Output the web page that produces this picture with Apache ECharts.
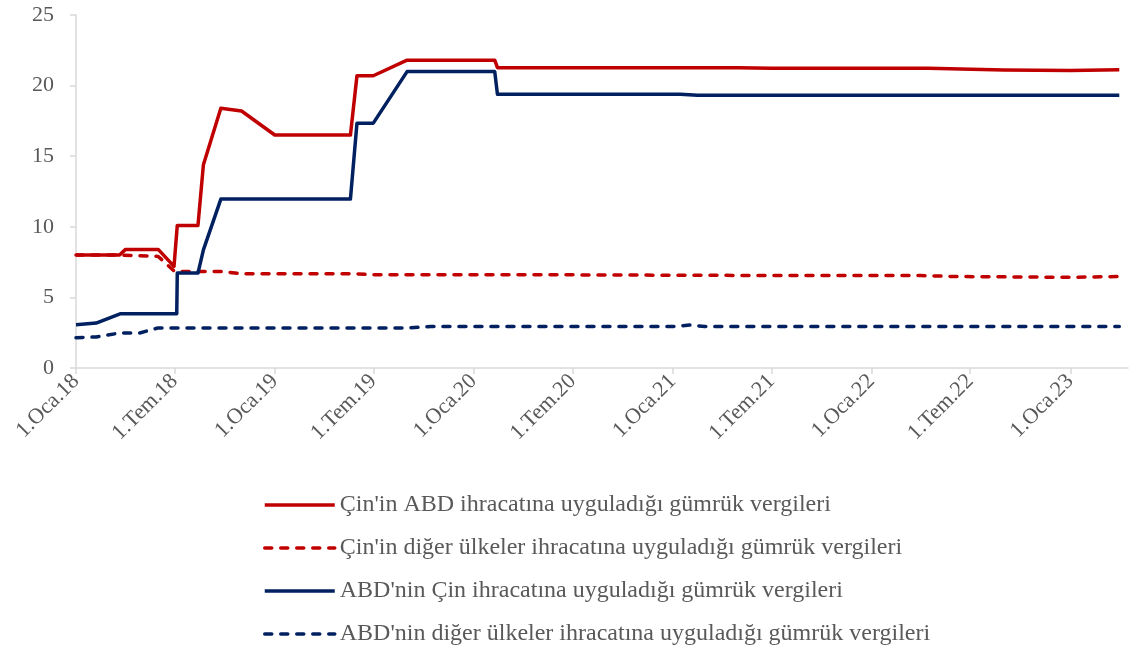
<!DOCTYPE html>
<html>
<head>
<meta charset="utf-8">
<script src="https://cdn.jsdelivr.net/npm/echarts@6/dist/echarts.min.js"></script>
<style>
  html, body { margin: 0; padding: 0; background: #fff; }
  #chart { width: 1146px; height: 649px; }
</style>
</head>
<body>
<div id="chart"></div>
<script>
// series names (legend)
let names = [
  "Çin'in ABD ihracatına uyguladığı gümrük vergileri",
  "Çin'in diğer ülkeler ihracatına uyguladığı gümrük vergileri",
  "ABD'nin Çin ihracatına uyguladığı gümrük vergileri",
  "ABD'nin diğer ülkeler ihracatına uyguladığı gümrük vergileri",
];

// Çin -> ABD
let cnUs = [
  ["2018-01-01", 8.0], ["2018-03-22", 8.0], ["2018-04-02", 8.4], ["2018-06-01", 8.4],
  ["2018-06-30", 7.2], ["2018-07-06", 10.1], ["2018-08-13", 10.1], ["2018-08-23", 14.4],
  ["2018-09-24", 18.4], ["2018-11-01", 18.2], ["2019-01-01", 16.5], ["2019-05-20", 16.5],
  ["2019-06-01", 20.7], ["2019-07-01", 20.7], ["2019-09-01", 21.8], ["2020-02-09", 21.8],
  ["2020-02-14", 21.27], ["2021-05-01", 21.27], ["2021-07-01", 21.23], ["2022-04-15", 21.23],
  ["2022-09-01", 21.11], ["2023-01-01", 21.07], ["2023-04-01", 21.13],
];

// Çin -> diğer ülkeler
let cnOther = [
  ["2018-01-01", 8.0], ["2018-03-22", 8.0], ["2018-06-01", 7.9], ["2018-07-01", 6.84],
  ["2018-09-24", 6.84], ["2018-11-01", 6.67], ["2019-06-01", 6.67], ["2019-07-01", 6.6],
  ["2020-06-01", 6.6], ["2021-07-01", 6.55], ["2022-04-01", 6.55], ["2022-06-01", 6.48],
  ["2023-01-01", 6.42], ["2023-04-01", 6.48],
];

// ABD -> Çin
let usCn = [
  ["2018-01-01", 3.06], ["2018-02-07", 3.18], ["2018-03-23", 3.84], ["2018-07-05", 3.84],
  ["2018-07-06", 6.72], ["2018-08-13", 6.72], ["2018-08-23", 8.37], ["2018-09-24", 11.96],
  ["2019-05-20", 11.96], ["2019-06-01", 17.34], ["2019-07-01", 17.34], ["2019-09-01", 20.99],
  ["2020-02-09", 20.99], ["2020-02-14", 19.38], ["2021-01-15", 19.38], ["2021-02-15", 19.32],
  ["2023-04-01", 19.32],
];

// ABD -> diğer ülkeler
let usOther = [
  ["2018-01-01", 2.15], ["2018-02-07", 2.2], ["2018-03-23", 2.48], ["2018-04-28", 2.48],
  ["2018-06-01", 2.84], ["2019-09-01", 2.84], ["2019-10-15", 2.94], ["2021-01-01", 2.94],
  ["2021-02-01", 3.04], ["2021-03-01", 2.94], ["2023-04-01", 2.94],
];

// x axis tick dates (1 Oca / 1 Tem)
let tickDates = [
  "2018-01-01", "2018-07-01", "2019-01-01", "2019-07-01", "2020-01-01", "2020-07-01",
  "2021-01-01", "2021-07-01", "2022-01-01", "2022-07-01", "2023-01-01",
];
let monthNames = ["Oca", "Şub", "Mar", "Nis", "May", "Haz", "Tem", "Ağu", "Eyl", "Eki", "Kas", "Ara"];

let red = "#C00000";
let navy = "#002060";
let grey = "#595959";
let font = "'Times New Roman', 'Liberation Serif', serif";

function toTime(s) {
  let p = s.split("-");
  return Date.UTC(+p[0], +p[1] - 1, +p[2]);
}
let tickValues = tickDates.map(toTime);

let chart = echarts.init(document.getElementById("chart"));

function lineSeries(name, data, color, dashed) {
  return {
    name: name,
    type: "line",
    data: data.map((v) => [toTime(v[0]), v[1]]),
    symbol: "none",
    showSymbol: false,
    animation: false,
    lineStyle: {
      color: color,
      width: 3.5,
      type: dashed ? [7, 9] : "solid",
      cap: dashed ? "round" : "butt",
      join: "round",
    },
    itemStyle: { color: color },
  };
}

let option = {
  backgroundColor: "#fff",
  animation: false,
  grid: { left: 76, top: 15, right: 18, bottom: 281 },
  xAxis: {
    type: "value",
    min: toTime("2018-01-01"),
    max: toTime("2023-04-17"),
    splitLine: { show: false },
    axisLine: { lineStyle: { color: "#D9D9D9", width: 1.5 } },
    axisTick: { show: true, customValues: tickValues, length: 6, lineStyle: { color: "#D9D9D9", width: 1.5 } },
    axisLabel: {
      customValues: tickValues,
      rotate: 45,
      margin: 10,
      color: grey,
      fontFamily: font,
      fontSize: 22,
      formatter: function (val) {
        let d = new Date(val);
        return "1." + monthNames[d.getUTCMonth()] + "." + String(d.getUTCFullYear()).slice(2);
      },
    },
  },
  yAxis: {
    type: "value",
    min: 0,
    max: 25,
    interval: 5,
    splitLine: { show: false },
    axisLine: { show: true, lineStyle: { color: "#D9D9D9", width: 1.5 } },
    axisTick: { show: true, length: 6, lineStyle: { color: "#D9D9D9", width: 1.5 } },
    axisLabel: { color: grey, fontFamily: font, fontSize: 22, margin: 22 },
  },
  legend: {
    orient: "vertical",
    left: 263,
    top: 493,
    height: 200,
    padding: 0,
    itemWidth: 70,
    itemHeight: 14,
    itemGap: 19,
    data: names,
    itemStyle: { opacity: 0, borderWidth: 0 },
    lineStyle: { width: 3.5 },
    textStyle: { color: grey, fontFamily: font, fontSize: 24 },
  },
  series: [
    lineSeries(names[1], cnOther, red, true),
    lineSeries(names[3], usOther, navy, true),
    lineSeries(names[2], usCn, navy, false),
    lineSeries(names[0], cnUs, red, false),
  ],
};

chart.setOption(option);
</script>
</body>
</html>
